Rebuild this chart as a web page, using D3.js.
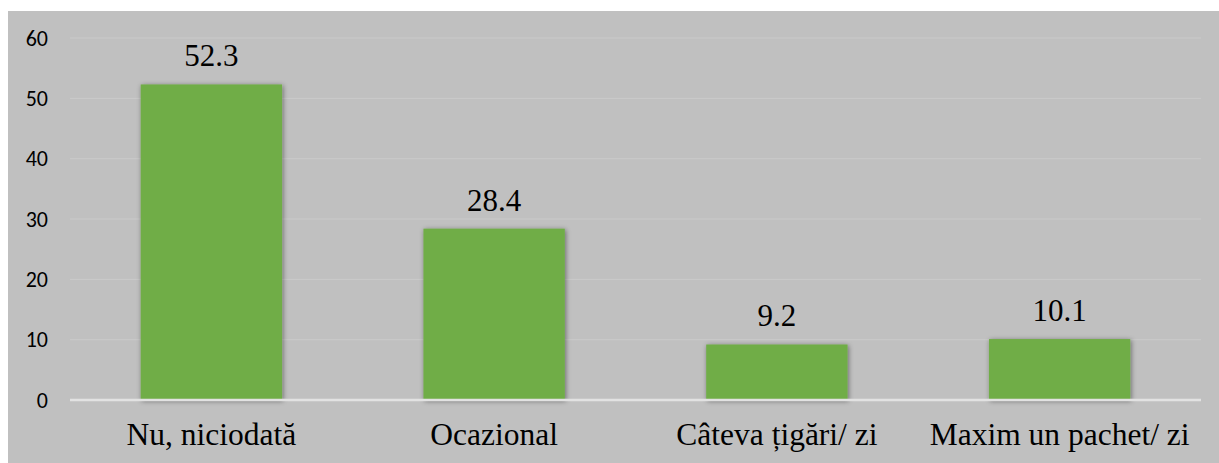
<!DOCTYPE html>
<html><head><meta charset="utf-8">
<script src="https://cdn.jsdelivr.net/npm/d3@7"></script>
<style>html,body{margin:0;padding:0;background:#fff;}svg{display:block;}</style>
</head><body>
<script>
const categories = ["Nu, niciodată", "Ocazional", "Câteva țigări/ zi", "Maxim un pachet/ zi"];
const values = [52.3, 28.4, 9.2, 10.1];
const yTicks = [0, 10, 20, 30, 40, 50, 60];

const SERIF = '"Liberation Serif", "Times New Roman", serif';
const SANS = 'Carlito, Calibri, "Open Sans", sans-serif';

const W = 1219, H = 463;
const svg = d3.select("body").append("svg").attr("width", W).attr("height", H);
const defs = svg.append("defs");
const f = defs.append("filter").attr("id", "sh").attr("x", "-20%").attr("y", "-20%").attr("width", "140%").attr("height", "140%");
f.append("feDropShadow").attr("dx", 1).attr("dy", 1).attr("stdDeviation", 2.5).attr("flood-color", "#000").attr("flood-opacity", 0.45);

svg.append("rect").attr("x", 8).attr("y", 11).attr("width", W - 8).attr("height", H - 11).attr("fill", "#c0c0c0");

const x = d3.scaleBand().domain(categories).range([70, 1201]).paddingInner(0.5).paddingOuter(0.25);
const y = d3.scaleLinear().domain([0, 60]).range([400, 38]);

// gridlines
svg.append("g").selectAll("line").data(yTicks.filter(d => d > 0)).join("line")
  .attr("x1", 70).attr("x2", 1201)
  .attr("y1", d => y(d)).attr("y2", d => y(d))
  .attr("stroke", "#cacaca").attr("stroke-width", 1);

// y axis labels
const yAxis = d3.axisLeft(y).tickValues(yTicks).tickSize(0).tickPadding(0);
const ga = svg.append("g").attr("transform", "translate(48,0)").call(yAxis);
ga.attr("font-family", null).attr("font-size", null);
ga.select(".domain").remove();
ga.selectAll("text").style("font-family", SANS).style("font-size", "22px").attr("fill", "#000").attr("dy", "0.33em");

// bars
svg.append("g").selectAll("rect").data(values).join("rect")
  .attr("x", (d, i) => x(categories[i]))
  .attr("width", x.bandwidth())
  .attr("y", d => y(d))
  .attr("height", d => y(0) - y(d))
  .attr("fill", "#70ad47")
  .attr("filter", "url(#sh)");

// zero line
svg.append("line").attr("x1", 70).attr("x2", 1201).attr("y1", y(0)).attr("y2", y(0))
  .attr("stroke", "#e2e2e2").attr("stroke-width", 2.5);

// value labels
svg.append("g").selectAll("text").data(values).join("text")
  .attr("x", (d, i) => x(categories[i]) + x.bandwidth() / 2)
  .attr("y", d => y(d) - 18)
  .attr("text-anchor", "middle")
  .style("font-family", SERIF)
  .style("font-size", "31px")
  .attr("fill", "#000")
  .text(d => d.toFixed(1));

// x labels
const xAxis = d3.axisBottom(x).tickSize(0).tickPadding(0);
const gx = svg.append("g").call(xAxis);
gx.attr("font-family", null).attr("font-size", null);
gx.select(".domain").remove();
gx.selectAll("text").attr("y", 445).attr("dy", null)
  .style("font-family", SERIF)
  .style("font-size", "31.5px").attr("fill", "#000");
</script>
</body></html>
